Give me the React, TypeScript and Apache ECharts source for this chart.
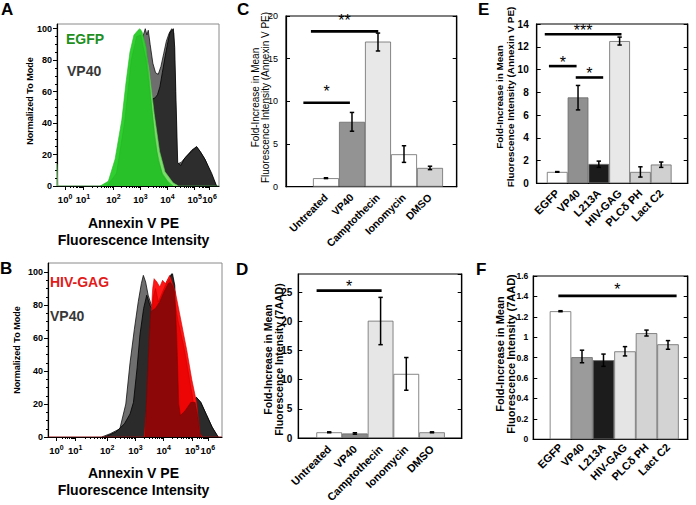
import React, { useEffect, useRef } from 'react';
import * as echarts from 'echarts';

const FONT = "'Liberation Sans', Arial, Helvetica, sans-serif";

// ---------- Panel A (x: decade display units, y: % of mode) ----------
const A_VP40_LIGHT = [[1.9,0],[2.2,3],[2.5,12],[2.75,35],[2.95,68],[3.1,88],[3.2,96],[3.27,100],[3.33,96],[3.38,99],[3.45,90],[3.55,78],[3.65,72],[3.75,71],[3.85,76],[3.95,84],[4.05,92],[4.15,97],[4.25,100],[4.32,97],[4.38,60],[4.44,14],[4.6,15],[4.8,19],[5.0,23],[5.17,25],[5.3,22],[5.48,17],[5.65,10],[5.8,4],[5.9,0]];
const A_VP40_DARK = [[1.95,0],[2.3,4],[2.6,14],[2.9,28],[3.15,42],[3.35,52],[3.5,55],[3.63,56],[3.72,58],[3.81,63],[3.9,72],[4.0,82],[4.1,91],[4.19,98],[4.27,99],[4.31,100],[4.36,88],[4.4,60],[4.47,15],[4.58,13],[4.74,18],[4.99,22],[5.17,25],[5.3,22],[5.48,17],[5.73,8],[5.91,0]];
const A_EGFP_1 = [[0,14],[0.03,0],[1.7,0],[2.0,4],[2.3,24],[2.5,52],[2.7,80],[2.9,95],[3.05,98],[3.2,93],[3.4,75],[3.6,46],[3.8,22],[4.0,9],[4.3,2],[4.5,0],[6,0]];
const A_EGFP_2 = [[1.6,0],[1.9,3],[2.15,17],[2.4,42],[2.55,65],[2.7,85],[2.85,96],[3.0,99],[3.07,100],[3.15,98],[3.3,88],[3.45,62],[3.6,32],[3.75,16],[3.9,8],[4.1,3],[4.3,0]];
const A_EGFP_3 = [[1.85,0],[2.2,8],[2.5,40],[2.75,80],[2.95,95],[3.1,96],[3.3,80],[3.5,50],[3.7,22],[3.9,7],[4.2,0]];

// ---------- Panel B ----------
const B_VP40_LIGHT = [[1.9,0],[2.2,2],[2.54,5],[2.75,20],[2.9,45],[3.05,65],[3.19,82],[3.3,93],[3.37,98],[3.45,94],[3.54,86],[3.65,80],[3.8,80],[4.0,86],[4.2,94],[4.37,99],[4.45,92],[4.55,45],[4.62,14],[4.8,17],[5.05,21],[5.25,24],[5.4,21],[5.6,13.5],[5.8,6],[6.0,0]];
const B_VP40_DARK = [[2.0,0],[2.4,3],[2.7,8],[2.9,14],[3.02,21],[3.15,42],[3.25,62],[3.38,78],[3.49,86],[3.6,80],[3.7,77],[3.85,79],[4.0,83],[4.15,90],[4.28,96],[4.4,99],[4.48,92],[4.55,60],[4.62,20],[4.68,13],[4.85,16],[5.05,21],[5.25,24],[5.4,21],[5.6,13.5],[5.8,6],[6.02,0]];
const B_GAG_1 = [[0,0],[3.4,0],[3.5,20],[3.6,60],[3.7,90],[3.75,96],[3.85,94],[3.95,91],[4.05,95],[4.15,93],[4.3,98],[4.4,93],[4.5,88],[4.66,74],[4.9,53],[5.08,35],[5.25,21],[5.37,2],[5.45,0],[6.15,0]];
const B_GAG_2 = [[3.45,0],[3.6,50],[3.72,85],[3.8,90],[3.9,82],[4.0,86],[4.15,92],[4.3,96],[4.45,85],[4.6,70],[4.8,55],[5.0,35],[5.2,15],[5.35,0]];
const B_OVERLAP = [[3.43,0],[3.5,30],[3.58,60],[3.63,76],[3.8,78],[3.95,82],[4.1,88],[4.25,93],[4.32,94],[4.4,92],[4.48,88],[4.55,60],[4.62,20],[4.68,13],[4.85,16],[5.05,21],[5.2,21],[5.3,12],[5.37,2],[5.42,0]];

const DECADE_POS = [0.3, 0.96, 2.09, 3.09, 4.09, 5.1, 5.65];
const DECADE_EXP = ['0', '1', '2', '3', '4', '5', '6'];
const HIST_Y_TICKS = [0, 20, 40, 60, 80, 100];

// ---------- Panel C ----------
const C_CATS = ['Untreated', 'VP40', 'Camptothecin', 'Ionomycin', 'DMSO'];
const C_MEAN = [1.0, 7.6, 17.0, 3.8, 2.2];
const C_LOW = [0.95, 6.5, 15.9, 2.85, 2.0];
const C_HIGH = [1.05, 8.7, 18.0, 4.8, 2.4];
const C_COLORS = ['#ffffff', '#939393', '#e8e8e8', '#ffffff', '#d2d2d2'];
const C_SIG = [[-0.87, 0.92, 9.84], [-0.58, 2.01, 18.2]];
const C_SIG_LABELS = ['*', '**'];

// ---------- Panel D ----------
const D_CATS = ['Untreated', 'VP40', 'Camptothecin', 'Ionomycin', 'DMSO'];
const D_MEAN = [1.0, 0.8, 20.1, 11.0, 1.0];
const D_LOW = [0.92, 0.68, 16.0, 8.2, 0.92];
const D_HIGH = [1.08, 0.92, 24.1, 13.8, 1.08];
const D_COLORS = ['#ffffff', '#8a8a8a', '#e6e6e6', '#ffffff', '#d6d6d6'];
const D_SIG = [[-0.49, 2.04, 25.25]];
const D_SIG_LABELS = ['*'];

// ---------- Panel E ----------
const E_CATS = ['EGFP', 'VP40', 'L213A', 'HIV-GAG', 'PLCδ PH', 'Lact C2'];
const E_MEAN = [1.0, 7.55, 1.7, 12.5, 1.0, 1.65];
const E_LOW = [0.97, 6.45, 1.4, 12.15, 0.55, 1.4];
const E_HIGH = [1.03, 8.6, 1.95, 12.85, 1.45, 1.87];
const E_COLORS = ['#ffffff', '#909090', '#1c1c1c', '#e8e8e8', '#d0d0d0', '#d0d0d0'];
const E_SIG = [[-0.6, 3.09, 13.1], [-0.4, 0.93, 10.3], [0.89, 2.21, 9.3]];
const E_SIG_LABELS = ['***', '*', '*'];
const E_Y_TICKS = [0, 2, 4, 6, 8, 10, 12, 14];

// ---------- Panel F ----------
const F_CATS = ['EGFP', 'VP40', 'L213A', 'HIV-GAG', 'PLCδ PH', 'Lact C2'];
const F_MEAN = [1.255, 0.805, 0.775, 0.862, 1.04, 0.931];
const F_LOW = [1.25, 0.75, 0.715, 0.817, 1.012, 0.882];
const F_HIGH = [1.26, 0.873, 0.835, 0.908, 1.07, 0.967];
const F_COLORS = ['#ffffff', '#9b9b9b', '#1c1c1c', '#e5e5e5', '#d3d3d3', '#d3d3d3'];
const F_SIG = [[-0.1, 5.4, 1.405]];
const F_SIG_LABELS = ['*'];

function buildOption() {
  const grid: any[] = [];
  const xAxis: any[] = [];
  const yAxis: any[] = [];
  const series: any[] = [];
  const graphic: any[] = [];
  const pixelLabels: any[] = [];

  const minorX: number[] = [];
  for (let d = 0; d < DECADE_POS.length - 1; d++) {
    for (let k = 2; k <= 9; k++) minorX.push(DECADE_POS[d] + Math.log10(k) * (DECADE_POS[d + 1] - DECADE_POS[d]));
  }
  const minorY: number[] = [];
  for (let v = 0; v <= 100; v += 5) if (v % 20 !== 0) minorY.push(v);

  const histPanel = (g: any, xMax: number, yMax: number, layers: any[]) => {
    grid.push({ ...g, show: true, borderColor: '#8a8a8a', borderWidth: 1 });
    const gi = grid.length - 1;
    const xi = xAxis.length;
    xAxis.push({
      gridIndex: gi, type: 'value', min: 0, max: xMax, position: 'bottom',
      axisLine: { show: true, onZero: false, lineStyle: { color: '#000', width: 1.2 } },
      axisTick: { show: true, customValues: DECADE_POS, length: 4, lineStyle: { color: '#000' } },
      splitLine: { show: false },
      axisLabel: {
        customValues: DECADE_POS, margin: 7, hideOverlap: false,
        formatter: (v: number) => {
          let bi = 0;
          DECADE_POS.forEach((p, i) => { if (Math.abs(p - v) < Math.abs(DECADE_POS[bi] - v)) bi = i; });
          return `{b|10}{s|${DECADE_EXP[bi]}}`;
        },
        rich: {
          b: { fontSize: 9.5, fontWeight: 'bold', fontFamily: FONT, color: '#000', lineHeight: 11, verticalAlign: 'bottom', padding: [4, 0, 0, 0] },
          s: { fontSize: 7, fontWeight: 'bold', fontFamily: FONT, color: '#000', lineHeight: 8, verticalAlign: 'top' },
        },
      },
    });
    xAxis.push({
      gridIndex: gi, type: 'value', min: 0, max: xMax, position: 'bottom',
      axisLine: { show: false, onZero: false },
      axisTick: { show: true, customValues: minorX, length: 2, lineStyle: { color: '#000' } },
      axisLabel: { show: false }, splitLine: { show: false },
    });
    const yi = yAxis.length;
    yAxis.push({
      gridIndex: gi, type: 'value', min: 0, max: yMax, position: 'left',
      axisLine: { show: true, onZero: false, lineStyle: { color: '#000', width: 1.2 } },
      axisTick: { show: true, customValues: HIST_Y_TICKS, length: 4, lineStyle: { color: '#000' } },
      axisLabel: { customValues: HIST_Y_TICKS, hideOverlap: false, fontSize: 9, fontWeight: 'bold', fontFamily: FONT, color: '#000', margin: 5 },
      splitLine: { show: false },
    });
    yAxis.push({
      gridIndex: gi, type: 'value', min: 0, max: yMax, position: 'left',
      axisLine: { show: false, onZero: false },
      axisTick: { show: true, customValues: minorY, length: 2, lineStyle: { color: '#000' } },
      axisLabel: { show: false }, splitLine: { show: false },
    });
    layers.forEach((l, k) => {
      series.push({
        type: 'line', xAxisIndex: xi, yAxisIndex: yi, data: l.data, symbol: 'none', smooth: false,
        silent: true, z: 2 + k, lineStyle: { color: l.stroke, width: l.lw },
        areaStyle: { color: l.fill, opacity: l.opacity ?? 1 },
      });
    });
  };

  histPanel({ left: 57, top: 24, width: 162, height: 162 }, 6, 103, [
    { data: A_VP40_LIGHT, fill: '#6e6e6e', stroke: '#111', lw: 0.8 },
    { data: A_VP40_DARK, fill: '#2d2d2d', stroke: '#000', lw: 0.8 },
    { data: A_EGFP_1, fill: '#7cdc6c', stroke: '#5acb50', lw: 0.6 },
    { data: A_EGFP_2, fill: '#30cf30', stroke: '#2ab82a', lw: 0.6 },
    { data: A_EGFP_3, fill: '#22b022', stroke: '#22b022', lw: 0.4, opacity: 0.45 },
  ]);
  histPanel({ left: 48, top: 263, width: 174, height: 174 }, 6.15, 105.5, [
    { data: B_VP40_LIGHT, fill: '#6f6f6f', stroke: '#111', lw: 0.8 },
    { data: B_VP40_DARK, fill: '#2b2b2b', stroke: '#000', lw: 0.8 },
    { data: B_GAG_1, fill: '#ff1616', stroke: '#d00000', lw: 0.6 },
    { data: B_GAG_2, fill: '#e80000', stroke: '#c00000', lw: 0.5, opacity: 0.8 },
    { data: B_OVERLAP, fill: '#8c0707', stroke: '#7a0000', lw: 0.5 },
  ]);

  const barPanel = (c: any) => {
    grid.push({ ...c.grid, show: true, borderColor: '#000', borderWidth: 1.2 });
    const gi = grid.length - 1;
    const xi = xAxis.length;
    const idx = c.cats.map((_: string, i: number) => i);
    xAxis.push({
      gridIndex: gi, type: 'value', min: c.xMin, max: c.xMax, position: 'bottom',
      axisLine: { show: true, onZero: false, lineStyle: { color: '#000', width: 1.2 } },
      axisTick: { show: false }, splitLine: { show: false },
      axisLabel: {
        customValues: idx, rotate: 45, margin: c.catMargin, hideOverlap: false,
        formatter: (v: number) => c.cats[Math.round(v)] ?? '',
        fontSize: c.catSize, fontWeight: 'bold', fontFamily: FONT, color: '#000',
      },
    });
    const yi = yAxis.length;
    const labelStyle = {
      show: true, showMaxLabel: c.showMax, margin: c.yMargin, hideOverlap: false,
      formatter: (v: number) => String(Math.round(v * 100) / 100),
      fontSize: c.tickSize, fontWeight: c.tickWeight, fontFamily: FONT, color: '#000',
    };
    const mk = (pos: string, labels: boolean) => ({
      gridIndex: gi, type: 'value', min: 0, max: c.yMax, interval: c.yInterval, position: pos,
      splitLine: { show: false },
      axisLine: { show: true, onZero: false, lineStyle: { color: '#000', width: 1.2 } },
      axisTick: { show: true, inside: true, length: 4, lineStyle: { color: '#000', width: 1 } },
      axisLabel: labels ? labelStyle : { show: false },
    });
    yAxis.push(mk('left', !c.yTickLabels));
    yAxis.push(mk('right', false));
    if (c.yTickLabels) {
      pixelLabels.push({ xi, yi, xMin: c.xMin, ticks: c.yTickLabels, margin: c.yMargin, size: c.tickSize, weight: c.tickWeight });
    }

    series.push({
      type: 'bar', xAxisIndex: xi, yAxisIndex: yi, barWidth: c.barWidth, silent: true,
      data: c.mean.map((m: number, i: number) => ({
        value: [i, m],
        itemStyle: { color: c.colors[i], borderColor: '#6a6a6a', borderWidth: 0.8 },
      })),
    });
    series.push({
      type: 'custom', xAxisIndex: xi, yAxisIndex: yi, silent: true, z: 5, clip: false,
      data: c.low.map((l: number, i: number) => [i, l, c.high[i]]),
      renderItem: (_p: any, api: any) => {
        const x = api.value(0);
        const lo = api.coord([x, api.value(1)]);
        const hi = api.coord([x, api.value(2)]);
        const st = { stroke: '#000', lineWidth: 1.5 };
        const cap = 2.2;
        return {
          type: 'group', children: [
            { type: 'line', shape: { x1: lo[0], y1: lo[1], x2: hi[0], y2: hi[1] }, style: st },
            { type: 'line', shape: { x1: lo[0] - cap, y1: lo[1], x2: lo[0] + cap, y2: lo[1] }, style: st },
            { type: 'line', shape: { x1: hi[0] - cap, y1: hi[1], x2: hi[0] + cap, y2: hi[1] }, style: st },
          ],
        };
      },
    });
    series.push({
      type: 'custom', xAxisIndex: xi, yAxisIndex: yi, silent: true, z: 6, clip: false,
      data: c.sig,
      renderItem: (p: any, api: any) => {
        const a = api.coord([api.value(0), api.value(2)]);
        const b = api.coord([api.value(1), api.value(2)]);
        return {
          type: 'group', children: [
            { type: 'line', shape: { x1: a[0], y1: a[1], x2: b[0], y2: b[1] }, style: { stroke: '#000', lineWidth: 2.6 } },
            {
              type: 'text',
              style: {
                text: c.sigLabels[p.dataIndex], x: (a[0] + b[0]) / 2, y: a[1] - c.starGap,
                textAlign: 'center', textVerticalAlign: 'middle', fontSize: 16, fontFamily: FONT, fill: '#000',
              },
            },
          ],
        };
      },
    });
  };

  barPanel({
    grid: { left: 286, top: 16, width: 170.7, height: 170.7 }, xMin: -1.538, xMax: 5.027, yMax: 20, yInterval: 5, showMax: true,
    cats: C_CATS, mean: C_MEAN, low: C_LOW, high: C_HIGH, colors: C_COLORS,
    sig: C_SIG, sigLabels: C_SIG_LABELS, barWidth: 26, catSize: 10.5, catMargin: 9,
    tickSize: 9, tickWeight: 'normal', yMargin: 8, starGap: 11,
  });
  barPanel({
    grid: { left: 298.3, top: 274, width: 163.4, height: 166 }, xMin: -1.202, xMax: 5.156, yMax: 28.1, yInterval: 5, showMax: false,
    cats: D_CATS, mean: D_MEAN, low: D_LOW, high: D_HIGH, colors: D_COLORS,
    sig: D_SIG, sigLabels: D_SIG_LABELS, barWidth: 25.7, catSize: 11, catMargin: 9,
    tickSize: 10, tickWeight: 'bold', yMargin: 6, starGap: 4,
  });
  barPanel({
    grid: { left: 536.7, top: 24, width: 151, height: 159.3 }, xMin: -0.988, xMax: 6.275, yMax: 14, yInterval: 2, showMax: true,
    cats: E_CATS, mean: E_MEAN, low: E_LOW, high: E_HIGH, colors: E_COLORS,
    sig: E_SIG, sigLabels: E_SIG_LABELS, barWidth: 20.75, catSize: 11, catMargin: 8,
    tickSize: 10, tickWeight: 'bold', yMargin: 8, starGap: 4, yTickLabels: E_Y_TICKS,
  });
  barPanel({
    grid: { left: 533.3, top: 276, width: 154.4, height: 163.3 }, xMin: -1.265, xMax: 5.916, yMax: 1.6, yInterval: 0.2, showMax: true,
    cats: F_CATS, mean: F_MEAN, low: F_LOW, high: F_HIGH, colors: F_COLORS,
    sig: F_SIG, sigLabels: F_SIG_LABELS, barWidth: 21.5, catSize: 11, catMargin: 6,
    tickSize: 8.5, tickWeight: 'bold', yMargin: 5, starGap: 6,
  });

  const txt = (text: string, x: number, y: number, o: any = {}) => ({
    type: 'text', x, y, rotation: o.rotation ?? 0, silent: true, z: 50,
    style: {
      text, fontSize: o.size ?? 14, fontWeight: o.weight ?? 'bold', fontFamily: FONT, fill: o.color ?? '#000',
      textAlign: o.align ?? 'left', textVerticalAlign: o.valign ?? 'middle',
    },
  });
  graphic.push(
    txt('A', 1, 1, { size: 17, valign: 'top' }),
    txt('B', 0, 260, { size: 17, valign: 'top' }),
    txt('C', 237, 1, { size: 17, valign: 'top' }),
    txt('D', 236, 261, { size: 17, valign: 'top' }),
    txt('E', 478, 1, { size: 17, valign: 'top' }),
    txt('F', 476, 261, { size: 17, valign: 'top' }),
    txt('EGFP', 66, 39, { color: '#1f8f1f' }),
    txt('VP40', 67, 70.5, { color: '#383838' }),
    txt('HIV-GAG', 50, 282, { color: '#e21b1b' }),
    txt('VP40', 50, 316, { color: '#383838' }),
    txt('Annexin V PE', 133.5, 223, { align: 'center' }),
    txt('Fluorescence Intensity', 133.5, 240, { align: 'center' }),
    txt('Annexin V PE', 133.5, 473, { align: 'center' }),
    txt('Fluorescence Intensity', 133.5, 490, { align: 'center' }),
    txt('Normalized To Mode', 30, 101, { size: 9, align: 'center', rotation: Math.PI / 2 }),
    txt('Normalized To Mode', 16.7, 350, { size: 9, align: 'center', rotation: Math.PI / 2 }),
    txt('Fold-Increase in Mean', 255.8, 97.5, { size: 10, weight: 'normal', align: 'center', rotation: Math.PI / 2 }),
    txt('Fluorescence Intensity (Annexin V PE)', 265.8, 97.5, { size: 10, weight: 'normal', align: 'center', rotation: Math.PI / 2 }),
    txt('Fold-Increase in Mean', 267.8, 359.5, { size: 10.5, align: 'center', rotation: Math.PI / 2 }),
    txt('Fluorescence Intensity (7AAD)', 278.5, 359.5, { size: 10.5, align: 'center', rotation: Math.PI / 2 }),
    txt('Fold-Increase in Mean', 499.5, 97, { size: 9.9, align: 'center', rotation: Math.PI / 2 }),
    txt('Fluorescence Intensity (Annexin V PE)', 510.8, 97, { size: 9.9, align: 'center', rotation: Math.PI / 2 }),
    txt('Fold-Increase in Mean', 500.2, 354, { size: 11, align: 'center', rotation: Math.PI / 2 }),
    txt('Fluorescence Intensity (7AAD)', 510.8, 354, { size: 11, align: 'center', rotation: Math.PI / 2 }),
  );

  return {
    option: { animation: false, backgroundColor: '#fff', grid, xAxis, yAxis, series, graphic },
    graphic, txt, pixelLabels,
  };
}

export default function App() {
  const ref = useRef<HTMLDivElement>(null);
  useEffect(() => {
    document.body.style.margin = '0';
    const chart = echarts.init(ref.current!, null, { renderer: 'svg' });
    const built = buildOption();
    chart.setOption(built.option as any);
    // tick labels for panel E, positioned through the panel's own axes (convertToPixel)
    const extra: any[] = [];
    built.pixelLabels.forEach((pl: any) => {
      pl.ticks.forEach((v: number) => {
        const pt = chart.convertToPixel({ xAxisIndex: pl.xi, yAxisIndex: pl.yi } as any, [pl.xMin, v]) as any;
        if (pt && isFinite(pt[0]) && isFinite(pt[1])) {
          extra.push(built.txt(String(v), pt[0] - pl.margin, pt[1], { size: pl.size, weight: pl.weight, align: 'right' }));
        }
      });
    });
    if (extra.length) chart.setOption({ graphic: [...built.graphic, ...extra] } as any);
    return () => chart.dispose();
  }, []);
  return <div ref={ref} style={{ width: 696, height: 505 }} />;
}
